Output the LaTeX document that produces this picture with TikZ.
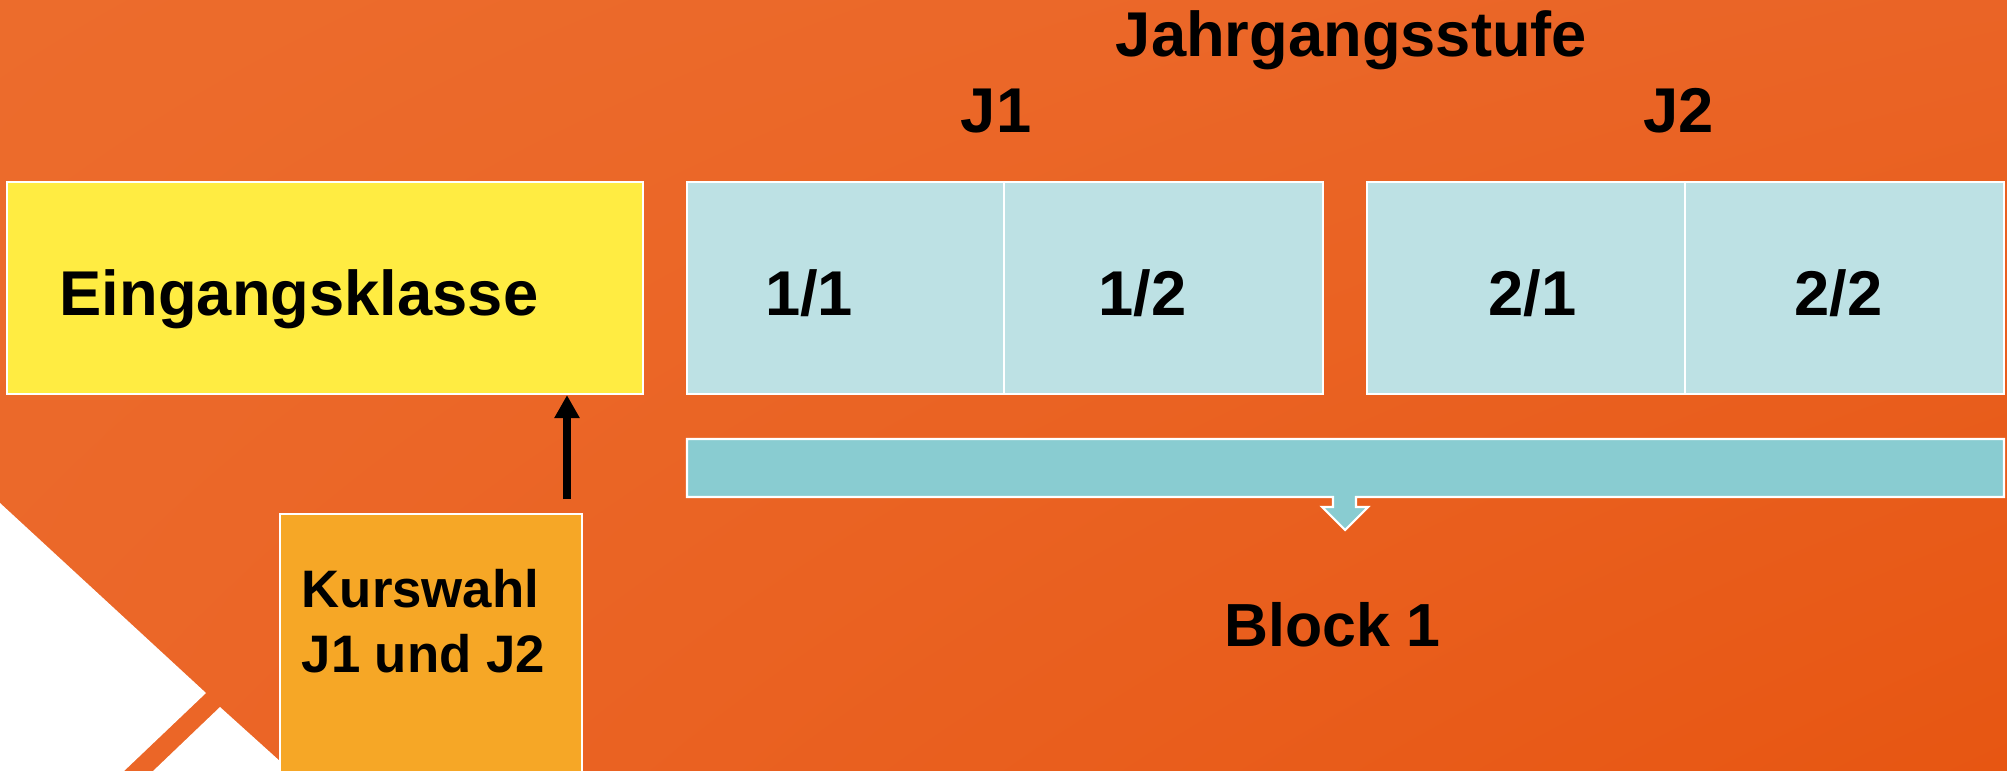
\documentclass[tikz,border=0pt]{standalone}
\usepackage{fontspec}
\setmainfont{Liberation Sans}
\usetikzlibrary{arrows.meta,shadings}
\definecolor{bgA}{HTML}{EC6C2C}
\definecolor{bgB}{HTML}{EA6426}
\definecolor{bgC}{HTML}{EB6729}
\definecolor{bgD}{HTML}{E75612}
\definecolor{yellowbox}{HTML}{FFEC42}
\definecolor{lightblue}{HTML}{BDE1E4}
\definecolor{barblue}{HTML}{89CCD1}
\definecolor{kursorange}{HTML}{F6A726}
\tikzset{
  whiteline/.style={draw=white, line width=0.6pt},
  cellbox/.style={whiteline, fill=lightblue, rectangle, inner sep=0pt, minimum height=2.12cm},
  bigtext/.style={font=\fontsize{18pt}{21pt}\selectfont\bfseries, inner sep=0pt, anchor=base},
  kurstext/.style={font=\fontsize{15pt}{18pt}\selectfont\bfseries, inner sep=0pt, anchor=base west},
  uparrow/.style={line width=0.08cm, -{Triangle[width=0.24cm,length=0.23cm]}, black}
}
\begin{document}
\begin{tikzpicture}[x=0.01cm, y=-0.01cm]
\useasboundingbox (0,0) rectangle (2007,770);
\clip (0,0) rectangle (2007,770);
% background
\shade[upper left=bgA, upper right=bgB, lower left=bgC, lower right=bgD] (0,0) rectangle (2007,770);
% white decorative shapes bottom left
\fill[white] (0,503) -- (206,693) -- (123,772) -- (0,772) -- cycle;
\fill[white] (152,772) -- (220,707) -- (292,772) -- cycle;
% boxes
\node[whiteline, fill=yellowbox, rectangle, inner sep=0pt, minimum width=6.36cm, minimum height=2.12cm] (eing) at (325,288) {};
\node[cellbox, minimum width=3.17cm] (c11) at (845.5,288) {};
\node[cellbox, minimum width=3.19cm] (c12) at (1163.5,288) {};
\node[cellbox, minimum width=3.18cm] (c21) at (1526,288) {};
\node[cellbox, minimum width=3.19cm] (c22) at (1844.5,288) {};
% block bar with down arrow
\draw[whiteline, fill=barblue] (687,439) -- (2004,439) -- (2004,497) -- (1356,497) -- (1356,507) -- (1368,507) -- (1345,530) -- (1322,507) -- (1333,507) -- (1333,497) -- (687,497) -- cycle;
% Kurswahl box
\node[whiteline, fill=kursorange, rectangle, inner sep=0pt, minimum width=3.02cm, minimum height=2.70cm] (kurs) at (431,649) {};
% texts
\node[bigtext] (tJahr) at (1351.5,57) {Jahrgangsstufe};
\node[bigtext] (tJ1) at (996,133) {J1};
\node[bigtext] (tJ2) at (1678.5,133) {J2};
\node[bigtext] (tEing) at (299,315) {Eingangsklasse};
\node[bigtext] (t11) at (809,315) {1/1};
\node[bigtext] (t12) at (1142.5,315) {1/2};
\node[bigtext] (t21) at (1532.5,315) {2/1};
\node[bigtext] (t22) at (1838.5,315) {2/2};
\node[bigtext, font=\fontsize{17.3pt}{20pt}\selectfont\bfseries] (tBlock) at (1332.5,646) {Block 1};
\node[kurstext] (tKurs1) at (301,607) {Kurswahl};
\node[kurstext] (tKurs2) at (301,672) {J1 und J2};
% arrow
\coordinate (arrS) at (567,499);
\draw[uparrow] (arrS) -- (eing.south -| arrS);
\end{tikzpicture}
\end{document}
